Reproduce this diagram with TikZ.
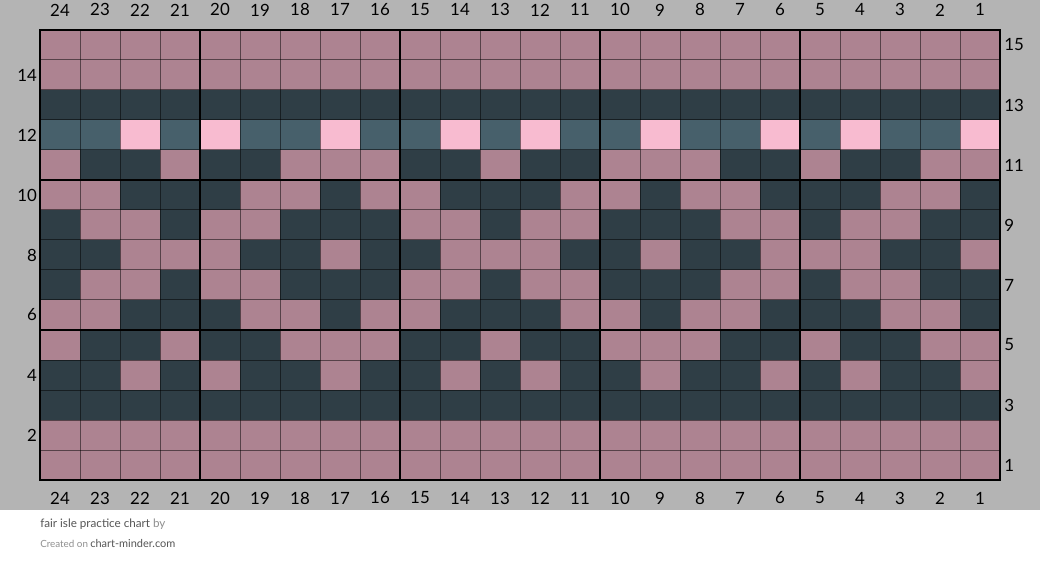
\documentclass[tikz,border=0pt]{standalone}
\usepackage{fontspec}
\setmainfont{Lato}
\definecolor{chartbg}{HTML}{B4B4B4}
\definecolor{cell0}{HTML}{AD8391}
\definecolor{cell1}{HTML}{2F3E46}
\definecolor{cell2}{HTML}{47606B}
\definecolor{cell3}{HTML}{F8BBD0}
\definecolor{footdark}{HTML}{555555}
\definecolor{footlight}{HTML}{8F8F8F}
\tikzset{
  numlabel/.style={font=\fontsize{12}{14}\selectfont, text=black, inner sep=0pt},
  thinline/.style={draw=black, opacity=0.5, line width=0.7pt},
  thickline/.style={draw=black, line width=2.1pt}
}

\begin{document}
\begin{tikzpicture}[x=1cm, y=0.75cm]
    \useasboundingbox (0,-3.1) rectangle (26,16);
    \fill[white] (0,-3.1) rectangle (26,16);
    \fill[chartbg] (0,-1) rectangle (26,16);
    \foreach \r/\pat in {15/{0,0,0,0,0,0,0,0}, 14/{0,0,0,0,0,0,0,0},
                         13/{1,1,1,1,1,1,1,1}, 12/{2,2,3,2,3,2,2,3},
                         11/{0,1,1,0,1,1,0,0}, 10/{0,0,1,1,1,0,0,1},
                         9/{1,0,0,1,0,0,1,1},  8/{1,1,0,0,0,1,1,0},
                         7/{1,0,0,1,0,0,1,1},  6/{0,0,1,1,1,0,0,1},
                         5/{0,1,1,0,1,1,0,0},  4/{1,1,0,1,0,1,1,0},
                         3/{1,1,1,1,1,1,1,1},  2/{0,0,0,0,0,0,0,0},
                         1/{0,0,0,0,0,0,0,0}} {
        \foreach \i in {0,...,23} {
            \pgfmathtruncatemacro\k{{\pat}[mod(\i,8)]}
            \fill[cell\k] (1+\i,\r-1) rectangle (2+\i,\r);
        }
    }
    \foreach \x in {2,...,24}
        \draw[thinline] (\x,0) -- (\x,15);
    \foreach \y in {1,...,14}
        \draw[thinline] (1,\y) -- (25,\y);
    \foreach \x in {5,10,15,20}
        \draw[thickline] (\x,0) -- (\x,15);
    \foreach \y in {5,10}
        \draw[thickline] (1,\y) -- (25,\y);
    \draw[thickline] (1,0) rectangle (25,15);
    \foreach \c in {1,...,24} {
        \node[numlabel] (top\c) at (25.5-\c,15.67) {\c};
        \node[numlabel] (bot\c) at (25.5-\c,-0.6) {\c};
    }
    \foreach \r in {2,4,...,14}
        \node[numlabel, anchor=east] (lft\r) at (0.93,\r-0.5) {\r};
    \foreach \r in {1,3,...,15}
        \node[numlabel, anchor=west] (rgt\r) at (25.1,\r-0.5) {\r};
    \node[anchor=west, inner sep=0pt, font=\fontsize{8.3}{10}\selectfont, text=footdark] (title) at (1,-1.47)
        {fair isle practice chart \textcolor{footlight}{by}};
    \node[anchor=west, inner sep=0pt, text=footdark] (credit) at (1,-2.12)
        {\textcolor{footlight}{\fontsize{7}{8}\selectfont Created on}\,\fontsize{7.8}{9}\selectfont chart-minder.com};
\end{tikzpicture}
\end{document}
